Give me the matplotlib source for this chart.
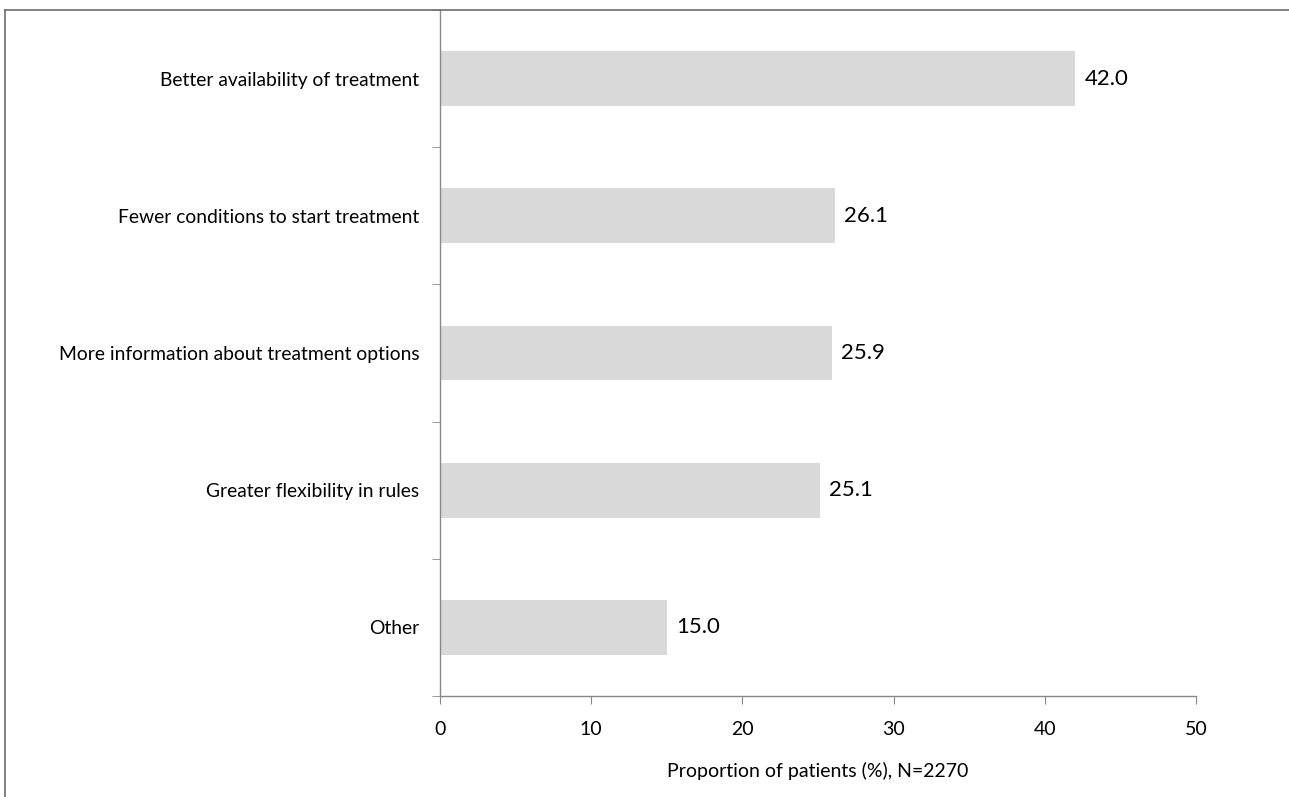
import matplotlib
matplotlib.use('Agg')
import matplotlib.pyplot as plt
from matplotlib.lines import Line2D
import numpy as np

plt.rcParams['font.family'] = ['Lato', 'DejaVu Sans']

categories = [
    'Better availability of treatment',
    'Fewer conditions to start treatment',
    'More information about treatment options',
    'Greater flexibility in rules',
    'Other',
]
values = [42.0, 26.1, 25.9, 25.1, 15.0]
x_label = 'Proportion of patients (%), N=2270'

W, H = 1289, 797
fig = plt.figure(figsize=(W / 100, H / 100), dpi=100)
ax = fig.add_axes([440 / W, 1 - 696 / H, (1196 - 440) / W, (696 - 10) / H])

n = len(categories)
y = np.arange(n)
ax.barh(y, values, height=0.4, color='#d9d9d9', zorder=2)
ax.set_ylim(n - 0.5, -0.5)
ax.set_xlim(0, 50)

for yi, v in zip(y, values):
    ax.annotate(f'{v:.1f}', (v, yi), xytext=(7, 0), textcoords='offset points',
                va='center', ha='left', fontsize=16, color='black')

# category labels at centres, tick marks at band edges (Excel style)
ax.set_yticks(y)
ax.set_yticklabels(categories, fontsize=13.9)
ax.tick_params(axis='y', which='major', length=0, pad=15)
ax.set_yticks(np.arange(n + 1) - 0.5, minor=True)
ax.tick_params(axis='y', which='minor', length=6, color='#888888', direction='out')

ax.set_xticks(range(0, 51, 10))
ax.tick_params(axis='x', length=6, color='#888888', labelsize=14, pad=12)
ax.set_xlabel(x_label, fontsize=14, labelpad=17)

for side in ['top', 'right']:
    ax.spines[side].set_visible(False)
for side in ['left', 'bottom']:
    ax.spines[side].set_color('#888888')
    ax.spines[side].set_linewidth(1)

# outer chart border (top and left visible)
fig.add_artist(Line2D([4.5 / W, 1], [1 - 10 / H, 1 - 10 / H], transform=fig.transFigure,
                      color='#6b6b6b', lw=1.2))
fig.add_artist(Line2D([4.5 / W, 4.5 / W], [0, 1 - 10 / H], transform=fig.transFigure,
                      color='#6b6b6b', lw=1.2))

fig.savefig('out.png', dpi=100)
